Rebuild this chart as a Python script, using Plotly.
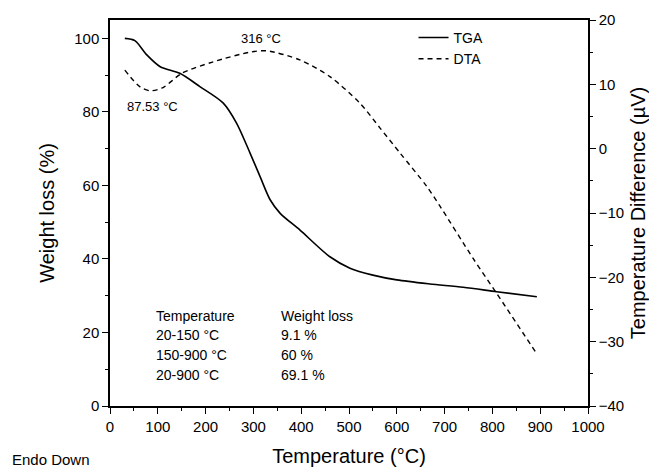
import plotly.graph_objects as go

tga_temp = [31, 52, 77, 105, 146, 188, 237, 265, 293, 314, 335, 356, 397, 460, 502, 550, 600, 669, 739, 809, 893]
tga_weight = [100, 99.4, 95.5, 92.3, 90.5, 86.9, 82.4, 76.9, 68.8, 62.4, 56.1, 52.4, 47.9, 40.6, 37.5, 35.6, 34.3, 33.2, 32.3, 31.1, 29.7]

dta_temp = [31, 63, 84, 111, 150, 216, 293, 328, 397, 460, 523, 565, 607, 663, 690, 760, 809, 893]
dta_diff = [12.2, 9.6, 9.0, 9.5, 11.7, 13.5, 15.0, 15.2, 13.8, 11.2, 7.05, 3.2, -0.7, -5.9, -8.9, -17.1, -22.5, -31.9]

table_col1 = ["Temperature", "20-150 \u00b0C", "150-900 \u00b0C", "20-900 \u00b0C"]
table_col2 = ["Weight loss", "9.1 %", "60 %", "69.1 %"]
table_rows_y = [24.5, 19.3, 13.9, 8.4]

font = "Liberation Sans, Arial, sans-serif"

fig = go.Figure()
fig.add_trace(go.Scatter(x=tga_temp, y=tga_weight, mode="lines", name="TGA",
                         line=dict(color="black", width=1.6, shape="spline", smoothing=0.8)))
fig.add_trace(go.Scatter(x=dta_temp, y=dta_diff, mode="lines", name="DTA", yaxis="y2",
                         line=dict(color="black", width=1.4, dash="5px,4px", shape="spline", smoothing=0.8)))

afont = dict(size=13, color="black", family=font)
fig.add_annotation(x=315, y=100.1, xref="x", yref="y", text="316 \u00b0C", showarrow=False, font=afont)
fig.add_annotation(x=88, y=81.6, xref="x", yref="y", text="87.53 \u00b0C", showarrow=False, font=afont)
tfont = dict(size=14, color="black", family=font)
for a, b, yv in zip(table_col1, table_col2, table_rows_y):
    fig.add_annotation(x=92, y=yv, xref="x", yref="y", text=a, showarrow=False, xanchor="left", font=tfont)
    fig.add_annotation(x=354, y=yv, xref="x", yref="y", text=b, showarrow=False, xanchor="left", font=tfont)
fig.add_annotation(x=-100 / 478, y=-53 / 386, xref="paper", yref="paper", text="Endo Down", showarrow=False,
                   xanchor="left", yanchor="middle", font=dict(size=15, color="black", family=font))

tick = dict(ticks="outside", ticklen=6, tickwidth=1.2, tickcolor="black", showline=True,
            linecolor="black", linewidth=1.5, showgrid=False, zeroline=False,
            tickfont=dict(size=15), automargin=False)

fig.update_layout(
    width=649, height=460,
    margin=dict(l=102, r=69, t=12, b=62, autoexpand=False),
    paper_bgcolor="white", plot_bgcolor="white",
    font=dict(family=font, color="black"),
    showlegend=True,
    legend=dict(x=0.635, y=0.995, xanchor="left", yanchor="top", bgcolor="rgba(0,0,0,0)",
                font=dict(size=14, family=font), tracegroupgap=0, itemwidth=30),
    xaxis=dict(range=[0, 1000], tick0=0, dtick=100, mirror=True,
               minor=dict(ticks="outside", ticklen=3, dtick=50, tickcolor="black", tickwidth=1),
               title=dict(text="Temperature (\u00b0C)", font=dict(size=20), standoff=15), **tick),
    yaxis=dict(range=[0, 105], tick0=0, dtick=20,
               minor=dict(ticks="outside", ticklen=3, dtick=10, tickcolor="black", tickwidth=1),
               title=dict(text="Weight loss (%)", font=dict(size=20), standoff=14), **tick),
    yaxis2=dict(range=[-40, 20], tick0=-40, dtick=10, overlaying="y", side="right",
                minor=dict(ticks="outside", ticklen=3, dtick=5, tickcolor="black", tickwidth=1),
                title=dict(text="Temperature Difference (\u00b5V)", font=dict(size=20), standoff=8), **tick),
)

fig.write_html("out.html")
